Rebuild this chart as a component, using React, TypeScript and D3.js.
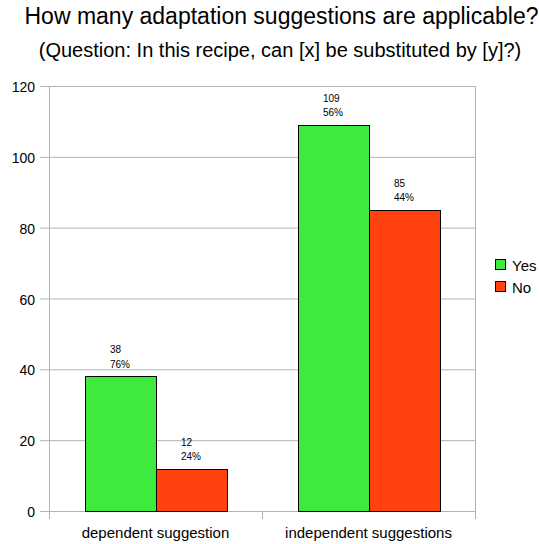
import React from "react";
import * as d3 from "d3";

// chart data
const categories = ["dependent suggestion", "independent suggestions"];
const seriesNames = ["Yes", "No"];
const yesValues = [38, 109];
const noValues = [12, 85];
const yesPercent = ["76%", "56%"];
const noPercent = ["24%", "44%"];
const yTicks = [0, 20, 40, 60, 80, 100, 120];

const colors = ["#3fea3f", "#ff420e"];
const font = "'Liberation Sans', Arial, sans-serif";

export default function App() {
  const width = 539;
  const height = 544;
  const plot = { left: 49, right: 475, top: 86, bottom: 511 };

  const x = d3.scaleBand<string>()
    .domain(categories)
    .range([plot.left, plot.right]);

  // two bars per category, half a bar of space on each side
  const xInner = d3.scaleBand<string>()
    .domain(seriesNames)
    .range([0, x.bandwidth()])
    .paddingOuter(0.5);

  const y = d3.scaleLinear().domain([0, 120]).range([plot.bottom, plot.top]);

  const series = [
    { name: "Yes", values: yesValues, pct: yesPercent, color: colors[0] },
    { name: "No", values: noValues, pct: noPercent, color: colors[1] },
  ];

  return (
    <svg width={width} height={height} style={{ position: "absolute", left: 0, top: 0 }}>
      <rect width={width} height={height} fill="#fff" />
      <text x={281.5} y={24} textAnchor="middle" fontFamily={font} fontSize={23} fill="#000">
        How many adaptation suggestions are applicable?
      </text>
      <text x={280} y={57} textAnchor="middle" fontFamily={font} fontSize={20} fill="#000">
        (Question: In this recipe, can [x] be substituted by [y]?)
      </text>

      {/* gridlines + y ticks */}
      {yTicks.map((t) => (
        <g key={t}>
          <line x1={plot.left - 9} x2={plot.right} y1={y(t) + 0.5} y2={y(t) + 0.5} stroke="#b3b3b3" />
          <text x={35} y={y(t) + 6} textAnchor="end" fontFamily={font} fontSize={14} fill="#000">
            {t}
          </text>
        </g>
      ))}

      {/* plot frame */}
      <line x1={plot.left + 0.5} x2={plot.left + 0.5} y1={plot.top} y2={plot.bottom + 8} stroke="#b3b3b3" />
      <line x1={plot.right + 0.5} x2={plot.right + 0.5} y1={plot.top} y2={plot.bottom + 8} stroke="#b3b3b3" />
      {categories.slice(1).map((c) => (
        <line key={c} x1={(x(c) as number) + 0.5} x2={(x(c) as number) + 0.5} y1={plot.bottom} y2={plot.bottom + 8} stroke="#b3b3b3" />
      ))}

      {/* bars */}
      {categories.map((c, ci) =>
        series.map((s) => {
          const bx = (x(c) as number) + (xInner(s.name) as number);
          const by = y(s.values[ci]);
          const cx = bx + xInner.bandwidth() / 2;
          return (
            <g key={c + s.name}>
              <rect
                x={Math.round(bx) + 0.5}
                y={Math.round(by) + 0.5}
                width={Math.round(xInner.bandwidth())}
                height={Math.round(plot.bottom - by)}
                fill={s.color}
                stroke="#000"
                strokeWidth={1}
              />
              <text x={cx - 10} y={by - 23} fontFamily={font} fontSize={10} fill="#000">
                {s.values[ci]}
              </text>
              <text x={cx - 10} y={by - 8.5} fontFamily={font} fontSize={10} fill="#000">
                {s.pct[ci]}
              </text>
            </g>
          );
        })
      )}

      {/* category labels */}
      {categories.map((c) => (
        <text
          key={c}
          x={(x(c) as number) + x.bandwidth() / 2}
          y={538}
          textAnchor="middle"
          fontFamily={font}
          fontSize={15}
          fill="#000"
        >
          {c}
        </text>
      ))}

      {/* legend */}
      {series.map((s, i) => (
        <g key={s.name} transform={`translate(495, ${259 + i * 22})`}>
          <rect x={0.5} y={0.5} width={10} height={10} fill={s.color} stroke="#000" />
          <text x={17} y={12} fontFamily={font} fontSize={15} fill="#000">
            {s.name}
          </text>
        </g>
      ))}
    </svg>
  );
}
